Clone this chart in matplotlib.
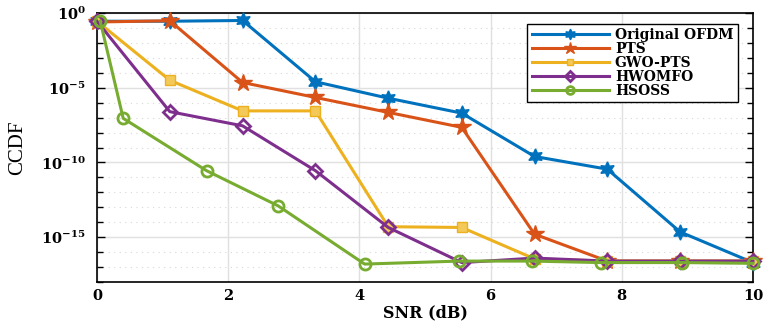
import numpy as np
import matplotlib
matplotlib.use("Agg")
import matplotlib.pyplot as plt
from matplotlib.ticker import FixedLocator, NullFormatter

plt.rcParams['font.family'] = ['DejaVu Serif']
plt.rcParams['mathtext.fontset'] = 'custom'
plt.rcParams['mathtext.rm'] = 'DejaVu Serif:bold'
plt.rcParams['mathtext.it'] = 'DejaVu Serif:bold'
plt.rcParams['mathtext.bf'] = 'DejaVu Serif:bold'

x_common = [0, 1.11, 2.22, 3.33, 4.44, 5.56, 6.67, 7.78, 8.89, 10]
x_hsoss = [0.05, 0.4, 1.67, 2.76, 4.08, 5.52, 6.63, 7.68, 8.92, 10]

labels = ["Original OFDM", "PTS", "GWO-PTS", "HWOMFO", "HSOSS"]
log_ofdm = [-0.55, -0.55, -0.5, -4.6, -5.7, -6.7, -9.6, -10.45, -14.65, -16.7]
log_pts = [-0.6, -0.52, -4.65, -5.65, -6.65, -7.65, -14.8, -16.6, -16.6, -16.6]
log_gwo = [-0.55, -4.5, -6.55, -6.55, -14.3, -14.35, -16.45, -16.6, -16.6, -16.6]
log_hwo = [-0.55, -6.6, -7.55, -10.55, -14.35, -16.7, -16.4, -16.6, -16.6, -16.6]
log_hsoss = [-0.55, -7.05, -10.55, -12.9, -16.8, -16.6, -16.6, -16.7, -16.7, -16.75]

colors = ["#0072BD", "#D95319", "#EDB120", "#7E2F8E", "#77AC30"]

fig = plt.figure(figsize=(7.66, 3.22), dpi=100)
ax = fig.add_axes([0.1266, 0.1242, 0.8564, 0.8354])

series = [
    (x_common, log_ofdm, dict(marker=(6, 1, 0), markersize=11, mfc=colors[0])),
    (x_common, log_pts, dict(marker='*', markersize=13, mfc=colors[1])),
    (x_common, log_gwo, dict(marker='s', markersize=7, mfc='#F3C95A')),
    (x_common, log_hwo, dict(marker='D', markersize=7, mfc='none', mew=2)),
    (x_hsoss, log_hsoss, dict(marker='o', markersize=8, mfc='none', mew=2)),
]
for (xs, ys, kw), c, lab in zip(series, colors, labels):
    ax.semilogy(xs, 10.0 ** np.array(ys), color=c, lw=2.2, mec=c,
                label=lab, clip_on=False, zorder=3, **kw)

ax.set_xlim(0, 10)
ax.set_ylim(1e-18, 1e0)
ax.set_xticks([0, 2, 4, 6, 8, 10])
ax.yaxis.set_major_locator(FixedLocator([1e-15, 1e-10, 1e-5, 1e0]))
ax.yaxis.set_minor_locator(FixedLocator([10.0 ** k for k in range(-18, 1)]))
ax.yaxis.set_minor_formatter(NullFormatter())
ax.set_yticklabels([r'$\mathbf{10^{-15}}$', r'$\mathbf{10^{-10}}$', r'$\mathbf{10^{-5}}$', r'$\mathbf{10^{0}}$'])

ax.tick_params(axis='both', which='both', direction='in', top=False, right=True,
               labelsize=10.5, width=1)
ax.tick_params(axis='y', which='major', length=6, pad=8)
ax.tick_params(axis='y', which='minor', length=4)
ax.tick_params(axis='x', which='major', length=0, pad=5)
for lbl in ax.get_xticklabels():
    lbl.set_fontweight('bold')

ax.grid(True, which='major', color='#E0E0E0', lw=1.0, ls='-')
ax.grid(True, which='minor', axis='y', color='#D8D8D8', lw=0.8, ls=(0, (1, 4)))
ax.set_axisbelow(True)
for s in ax.spines.values():
    s.set_linewidth(1.2)

ax.set_xlabel('SNR (dB)', fontsize=11.5, fontweight='bold', labelpad=1)
ax.set_ylabel('CCDF', fontsize=15, family='Liberation Serif')
ax.yaxis.set_label_coords(-0.106, 0.5)

leg = ax.legend(loc='upper right', bbox_to_anchor=(0.987, 0.985),
                prop={'weight': 'bold', 'size': 10}, handlelength=5.6,
                markerscale=0.7, labelspacing=0.0, borderpad=0.3, handletextpad=0.4,
                frameon=True, fancybox=False, edgecolor='black', framealpha=1)
leg.get_frame().set_linewidth(1.0)

fig.savefig('out.png', dpi=100)
